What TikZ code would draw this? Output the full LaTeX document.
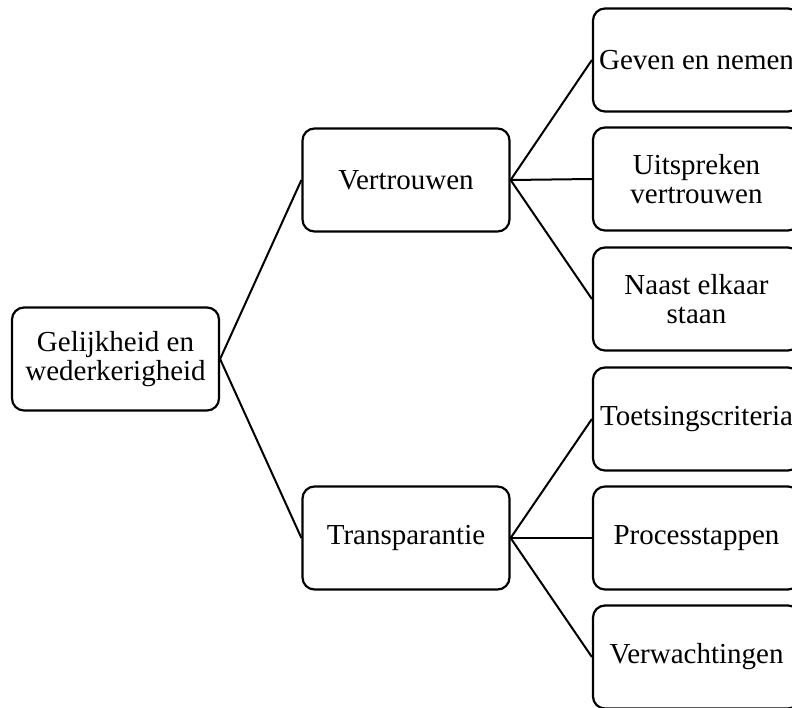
\documentclass[tikz,border=0pt]{standalone}
\usepackage{fontspec}
\setmainfont{Liberation Serif}
\begin{document}
\begin{tikzpicture}[x=1pt,y=-1pt,
  box/.style={draw, line width=2.2pt, rounded corners=12pt,
    minimum width=207pt, minimum height=103pt, inner sep=0pt,
    align=center, font=\fontsize{29}{29}\selectfont},
  link/.style={line width=2pt}]
\useasboundingbox (0,0) rectangle (792,707);
\clip (0,0) rectangle (792,707);

% root
\node[box] (root) at (115.5,359) {Gelijkheid en\\wederkerigheid};

% second level
\node[box] (vert) at (406,180) {Vertrouwen};
\node[box] (trans) at (406,538) {Transparantie};

% third level
\node[box] (geven) at (696.5,60) {Geven en nemen};
\node[box] (uitsp) at (696.5,179) {Uitspreken\\vertrouwen};
\node[box] (naast) at (696.5,299) {Naast elkaar\\staan};
\node[box] (toets) at (696.5,419) {Toetsingscriteria};
\node[box] (proc) at (696.5,538) {Processtappen};
\node[box] (verw) at (696.5,657) {Verwachtingen};

% connectors
\draw[link] (root.east) -- (vert.west);
\draw[link] (root.east) -- (trans.west);
\draw[link] (vert.east) -- (geven.west);
\draw[link] (vert.east) -- (uitsp.west);
\draw[link] (vert.east) -- (naast.west);
\draw[link] (trans.east) -- (toets.west);
\draw[link] (trans.east) -- (proc.west);
\draw[link] (trans.east) -- (verw.west);
\end{tikzpicture}
\end{document}
